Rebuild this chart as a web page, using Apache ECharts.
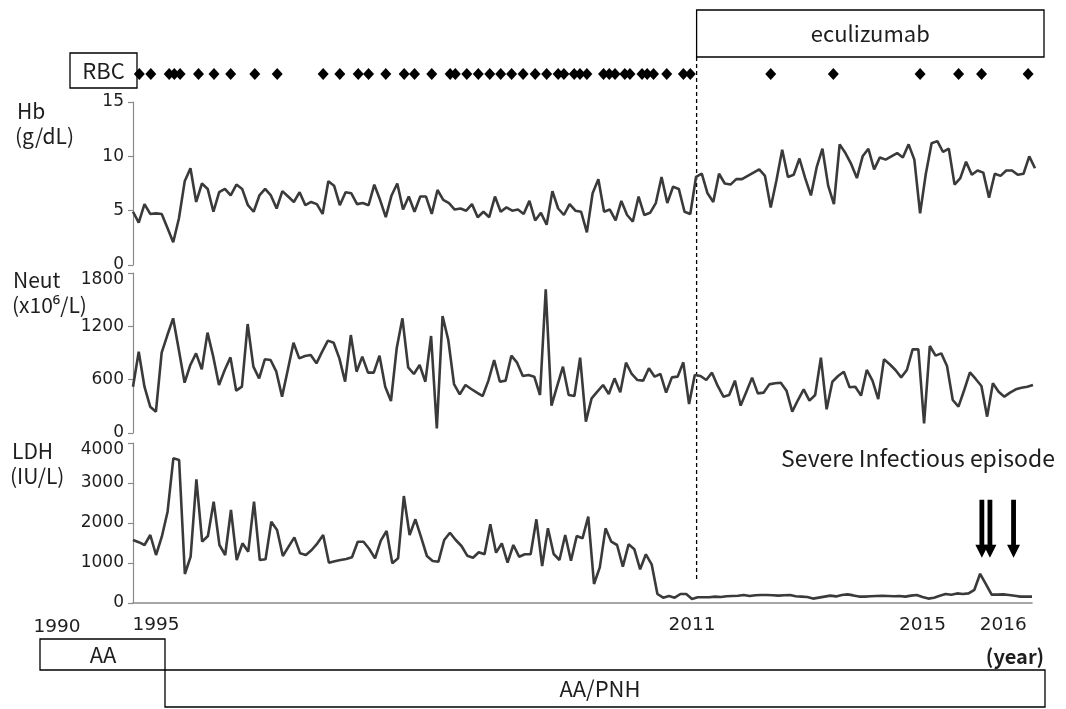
<!DOCTYPE html>
<html>
<head>
<meta charset="utf-8">
<script src="https://cdn.jsdelivr.net/npm/echarts@6/dist/echarts.min.js"></script>
<style>
  html, body { margin: 0; padding: 0; background: #fff; }
  #chart { width: 1066px; height: 709px; }
</style>
</head>
<body>
<div id="chart"></div>
<script>
// Hb (g/dL), one value per visit
const hbValues = [
  4.9, 3.9, 5.6, 4.7, 4.75, 4.7, 3.4, 2.1, 4.3, 7.7, 8.9, 5.8, 7.5, 7.0, 4.9, 6.7, 7.0, 6.4, 7.4, 7.0,
  5.5, 4.9, 6.4, 7.0, 6.4, 5.2, 6.8, 6.3, 5.8, 6.7, 5.5, 5.8, 5.6, 4.7, 7.7, 7.3, 5.5, 6.7, 6.6, 5.6,
  5.7, 5.5, 7.4, 6.0, 4.4, 6.4, 7.5, 5.1, 6.3, 4.9, 6.3, 6.3, 4.7, 6.9, 6.0, 5.7, 5.1, 5.2, 5.0, 5.6,
  4.4, 4.9, 4.4, 6.3, 4.9, 5.3, 5.0, 5.1, 4.7, 5.9, 4.1, 4.8, 3.7, 6.8, 5.2, 4.6, 5.6, 5.0, 4.9, 3.0,
  6.6, 7.9, 4.9, 5.1, 4.1, 5.9, 4.6, 4.0, 6.3, 4.6, 4.8, 5.7, 8.1, 5.7, 7.2, 7.0, 4.9, 4.7, 8.1, 8.4,
  6.6, 5.8, 8.4, 7.5, 7.4, 7.9, 7.9, 8.2, 8.5, 8.8, 8.2, 5.3, 7.8, 10.6, 8.1, 8.3, 9.8, 8.0, 6.4, 9.0,
  10.7, 7.3, 5.6, 11.1, 10.3, 9.3, 8.0, 10.0, 10.7, 8.8, 9.9, 9.7, 10.0, 10.3, 9.9, 11.1, 9.7, 4.75, 8.4, 11.2,
  11.4, 10.4, 10.7, 7.4, 8.0, 9.5, 8.3, 8.7, 8.5, 6.2, 8.4, 8.2, 8.7, 8.7, 8.3, 8.4, 10.0, 8.9
];

// Neutrophils (x10^6/L)
const neutValues = [
  521, 915, 521, 296, 240, 904, 1102, 1290, 934, 566, 765, 896, 716, 1129, 859, 540, 709, 851, 476, 521,
  1226, 746, 615, 829, 821, 690, 409, 709, 1016, 840, 866, 877, 784, 915, 1039, 1016, 840, 577, 1102, 690,
  859, 679, 679, 870, 521, 360, 953, 1290, 739, 664, 765, 577, 1091, 52, 1316, 1046, 551, 435, 540, 495,
  454, 416, 589, 821, 577, 589, 870, 791, 641, 652, 634, 427, 1616, 308, 529, 746, 427, 416, 848, 128,
  390, 465, 540, 439, 615, 457, 791, 664, 596, 589, 728, 634, 664, 454, 626, 634, 795, 326, 652, 641,
  596, 679, 529, 409, 427, 589, 308, 465, 623, 446, 454, 547, 559, 566, 476, 240, 371, 491, 364, 427,
  848, 266, 577, 641, 690, 514, 521, 420, 709, 589, 382, 829, 773, 709, 626, 709, 941, 941, 109, 979,
  870, 896, 754, 371, 296, 484, 683, 608, 529, 184, 559, 465, 409, 454, 491, 510, 521, 540
];

// LDH (IU/L)
const ldhValues = [
  1575, 1520, 1450, 1700, 1200, 1658, 2283, 3617, 3575, 725, 1158, 3092, 1533, 1675, 2533, 1450, 1200, 2325, 1075, 1492,
  1283, 2533, 1075, 1092, 2033, 1825, 1175, 1408, 1642, 1242, 1200, 1325, 1492, 1700, 1008, 1042, 1075, 1100, 1142, 1533,
  1533, 1350, 1117, 1558, 1800, 992, 1117, 2675, 1700, 2092, 1642, 1175, 1050, 1033, 1575, 1758, 1575, 1425, 1183, 1133,
  1267, 1217, 1967, 1258, 1492, 1008, 1450, 1158, 1217, 1217, 2092, 925, 1867, 1225, 1075, 1700, 1058, 1675, 1617, 2158,
  475, 892, 1867, 1533, 1450, 908, 1467, 1342, 842, 1217, 967, 225, 133, 175, 133, 225, 225, 100, 142, 142,
  142, 160, 150, 170, 175, 180, 200, 175, 195, 200, 200, 195, 185, 195, 200, 170, 160, 150, 110, 135,
  160, 185, 165, 200, 215, 190, 160, 160, 170, 175, 180, 175, 170, 175, 160, 185, 200, 150, 110, 130,
  180, 225, 205, 240, 225, 240, 330, 730, 470, 210, 210, 215, 200, 180, 160, 160, 160
];

// RBC transfusions, in Hb visit-index units
const rbcTimes = [
  1.1, 3.1, 6.3, 7.2, 8.2, 11.4, 14.1, 17.0, 21.2, 25.1, 33.1, 36.0, 39.2, 41.0, 44.0, 47.2, 49.0, 52.0,
  55.2, 56.1, 58.1, 60.1, 62.1, 64.0, 65.9, 67.9, 70.0, 72.0, 74.0, 75.0, 76.8, 77.8, 79.0, 81.9, 82.9,
  83.9, 85.6, 86.5, 88.6, 89.5, 90.6, 92.9, 95.8, 97.0, 111.0, 121.9, 137.0, 143.7, 147.7, 155.8
];

// year labels on the bottom (LDH) axis, by LDH visit index
const yearTicks = { 4: '1995', 97: '2011', 137: '2015', 151: '2016' };
// severe infectious episodes, LDH visit index
const infectionTimes = [147.3, 148.7, 152.8];
// start of eculizumab, Hb visit index
const eculizumabStart = 98.1;

const FONT = '"Noto Sans CJK JP", "Noto Sans", sans-serif';
const NUMFONT = '"DejaVu Sans", "Noto Sans", sans-serif';
const LINE = '#3a3a3a';
const AXIS = '#8a8a8a';
const TXT = '#1e1e1e';

const chart = echarts.init(document.getElementById('chart'));

function yAxisFor(grid, max, interval) {
  return {
    gridIndex: grid, type: 'value', min: 0, max: max, interval: interval,
    axisLine: { show: true, lineStyle: { color: AXIS, width: 1.2 } },
    axisTick: { show: true, length: 5, lineStyle: { color: AXIS, width: 1.2 } },
    axisLabel: {
      color: TXT, fontSize: 17, fontFamily: NUMFONT, margin: 9,
      // the top label sits a little below its tick, as in the original
      formatter: v => (v === max && grid > 1) ? '{top|' + v + '}' : String(v),
      rich: { top: { color: TXT, fontSize: 17, fontFamily: NUMFONT, padding: [13, 0, 0, 0] } }
    },
    splitLine: { show: false }
  };
}
function catAxisFor(grid, n) {
  return {
    gridIndex: grid, type: 'category', boundaryGap: false,
    data: Array.from({ length: n }, (_, i) => String(i)),
    show: false
  };
}
function lineFor(idx, values) {
  return {
    type: 'line', xAxisIndex: idx, yAxisIndex: idx, data: values,
    symbol: 'none', silent: true,
    lineStyle: { color: LINE, width: 2.6 }
  };
}

const ldhX = catAxisFor(3, ldhValues.length);
ldhX.show = true;
ldhX.axisLine = { show: true, lineStyle: { color: AXIS, width: 1.6 } };
ldhX.axisTick = { show: false };
ldhX.axisLabel = {
  color: TXT, fontSize: 18.5, fontFamily: NUMFONT, margin: 13,
  interval: (i) => yearTicks[i] !== undefined,
  formatter: (v, i) => yearTicks[i] || ''
};

chart.setOption({
  animation: false,
  backgroundColor: '#fff',
  grid: [
    { left: 133, right: 31, top: 66, height: 16 },
    { left: 133, right: 31, top: 102, height: 163 },
    { left: 133, right: 33, top: 273, height: 160 },
    { left: 133, right: 34, top: 443, height: 160 }
  ],
  xAxis: [
    { gridIndex: 0, type: 'value', min: 0, max: hbValues.length - 1, show: false },
    catAxisFor(1, hbValues.length),
    catAxisFor(2, neutValues.length),
    ldhX
  ],
  yAxis: [
    { gridIndex: 0, type: 'value', min: 0, max: 1, show: false },
    yAxisFor(1, 15, 5),
    yAxisFor(2, 1800, 600),
    yAxisFor(3, 4000, 1000)
  ],
  series: [
    {
      type: 'scatter', xAxisIndex: 0, yAxisIndex: 0, silent: true,
      data: rbcTimes.map(t => [t, 0.5]),
      symbol: 'diamond', symbolSize: [11, 12],
      itemStyle: { color: '#000', opacity: 1 }
    },
    lineFor(1, hbValues),
    lineFor(2, neutValues),
    lineFor(3, ldhValues)
  ]
});

// annotations placed through the chart's own scales
function xAt(axisIndex, n, t) {
  const a = chart.convertToPixel({ xAxisIndex: axisIndex }, 0);
  const b = chart.convertToPixel({ xAxisIndex: axisIndex }, n - 1);
  return a + (b - a) * t / (n - 1);
}
const ecuX = chart.convertToPixel({ xAxisIndex: 0 }, eculizumabStart);
const dashBottom = chart.convertToPixel({ yAxisIndex: 3 }, 580);

function label(text, x, y, size, align, weight, font) {
  return {
    type: 'text', silent: true,
    style: {
      text: text, x: x, y: y, fill: TXT,
      font: (weight || 'normal') + ' ' + size + 'px ' + (font || FONT),
      textAlign: align || 'left', textVerticalAlign: 'middle'
    }
  };
}
function box(x1, y1, x2, y2) {
  return {
    type: 'rect', silent: true,
    shape: { x: x1, y: y1, width: x2 - x1, height: y2 - y1 },
    style: { fill: '#fff', stroke: '#000', lineWidth: 1.3 }
  };
}

const arrowTop = chart.convertToPixel({ yAxisIndex: 3 }, 2580);
const arrowTip = chart.convertToPixel({ yAxisIndex: 3 }, 1130);
const arrows = infectionTimes.map(t => {
  const x = xAt(3, ldhValues.length, t);
  const hs = arrowTip - 13;
  return {
    type: 'polygon', silent: true,
    shape: { points: [[x - 2.4, arrowTop], [x + 2.4, arrowTop], [x + 2.4, hs], [x + 6.5, hs], [x, arrowTip], [x - 6.5, hs], [x - 2.4, hs]] },
    style: { fill: '#000' }
  };
});

chart.setOption({
  graphic: [
    {
      type: 'line', silent: true,
      shape: { x1: ecuX, y1: 57, x2: ecuX, y2: dashBottom },
      style: { stroke: '#000', lineWidth: 1.3, lineDash: [4, 3] }
    },
    box(ecuX, 10, 1044, 57),
    label('eculizumab', (ecuX + 1044) / 2, 34, 22, 'center'),
    box(70, 53, 137, 88),
    label('RBC', 103.5, 71, 22, 'center'),
    label('Hb', 17, 111, 21),
    label('(g/dL)', 15, 136, 21),
    label('Neut', 13, 280, 21),
    label('(x10\u2076/L)', 12, 305, 21),
    label('LDH', 12, 451, 21),
    label('(IU/L)', 10, 476, 21),
    label('1990', 57, 627, 18.5, 'center', 'normal', NUMFONT),
    label('(year)', 1015, 656, 20, 'center', 'bold'),
    label('Severe Infectious episode', 918, 458, 23, 'center'),
    box(40, 639, 165, 670),
    label('AA', 103, 655, 22, 'center'),
    box(165, 670, 1045, 707),
    label('AA/PNH', 600, 689, 22, 'center')
  ].concat(arrows)
});
</script>
</body>
</html>
